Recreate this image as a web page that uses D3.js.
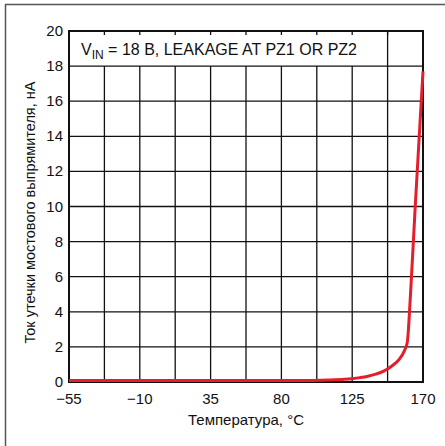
<!DOCTYPE html>
<html>
<head>
<meta charset="utf-8">
<script src="https://cdn.jsdelivr.net/npm/d3@7"></script>
<style>
  html, body { margin: 0; padding: 0; background: #fff; }
  svg { display: block; }
  text { font-family: "Liberation Sans", Arial, sans-serif; fill: #111; }
</style>
</head>
<body>
<svg id="chart" width="445" height="446"></svg>
<script>
// Leakage current of the bridge rectifier vs. temperature
const temperature = [-55, -10, 35, 80, 100, 110, 120, 125, 130, 135, 140, 145, 150, 155, 158, 160, 162, 165, 168, 170];
const leakage     = [0.08, 0.08, 0.08, 0.08, 0.09, 0.11, 0.15, 0.19, 0.25, 0.33, 0.45, 0.62, 0.9, 1.3, 1.75, 2.25, 4.9, 9.9, 14.6, 17.7];

const xTicks = [-55, -10, 35, 80, 125, 170];
const xGrid  = d3.range(-55, 170.1, 22.5);
const yTicks = d3.range(0, 20.1, 2);

const svg = d3.select("#chart");
const m = { left: 69, right: 423, top: 31, bottom: 382 };

const x = d3.scaleLinear().domain([-55, 170]).range([m.left, m.right]);
const y = d3.scaleLinear().domain([0, 20]).range([m.bottom, m.top]);

// page frame: top and left rules
svg.append("line").attr("x1", 5).attr("x2", 445).attr("y1", 4.5).attr("y2", 4.5)
  .attr("stroke", "#555").attr("stroke-width", 1.5);
svg.append("line").attr("x1", 5.5).attr("x2", 5.5).attr("y1", 4).attr("y2", 446)
  .attr("stroke", "#555").attr("stroke-width", 1.5);

const grid = svg.append("g").attr("stroke", "#111").attr("stroke-width", 1.3);

// horizontal grid
grid.selectAll("line.h").data(yTicks.slice(1, -1)).join("line")
  .attr("x1", m.left).attr("x2", m.right)
  .attr("y1", d => y(d)).attr("y2", d => y(d));

// vertical grid: stops below the annotation row, except at 147.5
grid.selectAll("line.v").data(xGrid.slice(1, -1)).join("line")
  .attr("x1", d => x(d)).attr("x2", d => x(d))
  .attr("y1", d => d === 147.5 ? y(20) : y(18)).attr("y2", y(0));

// short tick marks under the top edge
grid.selectAll("line.t").data(xGrid.slice(1, -1)).join("line")
  .attr("x1", d => x(d)).attr("x2", d => x(d))
  .attr("y1", y(20)).attr("y2", y(20) + 4);

// plot frame
svg.append("rect")
  .attr("x", m.left).attr("y", m.top)
  .attr("width", m.right - m.left).attr("height", m.bottom - m.top)
  .attr("fill", "none").attr("stroke", "#111").attr("stroke-width", 2);

// curve
const line = d3.line()
  .x((d, i) => x(temperature[i]))
  .y(d => y(d))
  .curve(d3.curveMonotoneX);
svg.append("path").datum(leakage)
  .attr("d", line)
  .attr("fill", "none").attr("stroke", "#e41e2b").attr("stroke-width", 3)
  .attr("stroke-linejoin", "round");

// tick labels
svg.append("g").selectAll("text").data(yTicks).join("text")
  .attr("x", m.left - 6).attr("y", d => y(d) + 5)
  .attr("text-anchor", "end").attr("font-size", 15)
  .text(d => d);

svg.append("g").selectAll("text").data(xTicks).join("text")
  .attr("x", d => x(d)).attr("y", m.bottom + 22)
  .attr("text-anchor", "middle").attr("font-size", 15)
  .text(d => d < 0 ? "\u2212" + Math.abs(d) : d);

// axis titles
svg.append("text")
  .attr("x", (m.left + m.right) / 2).attr("y", 425)
  .attr("text-anchor", "middle").attr("font-size", 15)
  .text("Температура, °C");

svg.append("text")
  .attr("transform", `translate(35, ${(m.top + m.bottom) / 2 + 6}) rotate(-90)`)
  .attr("text-anchor", "middle").attr("font-size", 14.5)
  .text("Ток утечки мостового выпрямителя, нА");

// annotation
const note = svg.append("text").attr("x", 81).attr("y", 55).attr("font-size", 16);
note.append("tspan").text("V");
note.append("tspan").attr("dy", 4).attr("font-size", 12).text("IN");
note.append("tspan").attr("dy", -4).text(" = 18 В, LEAKAGE AT PZ1 OR PZ2");
</script>
</body>
</html>
